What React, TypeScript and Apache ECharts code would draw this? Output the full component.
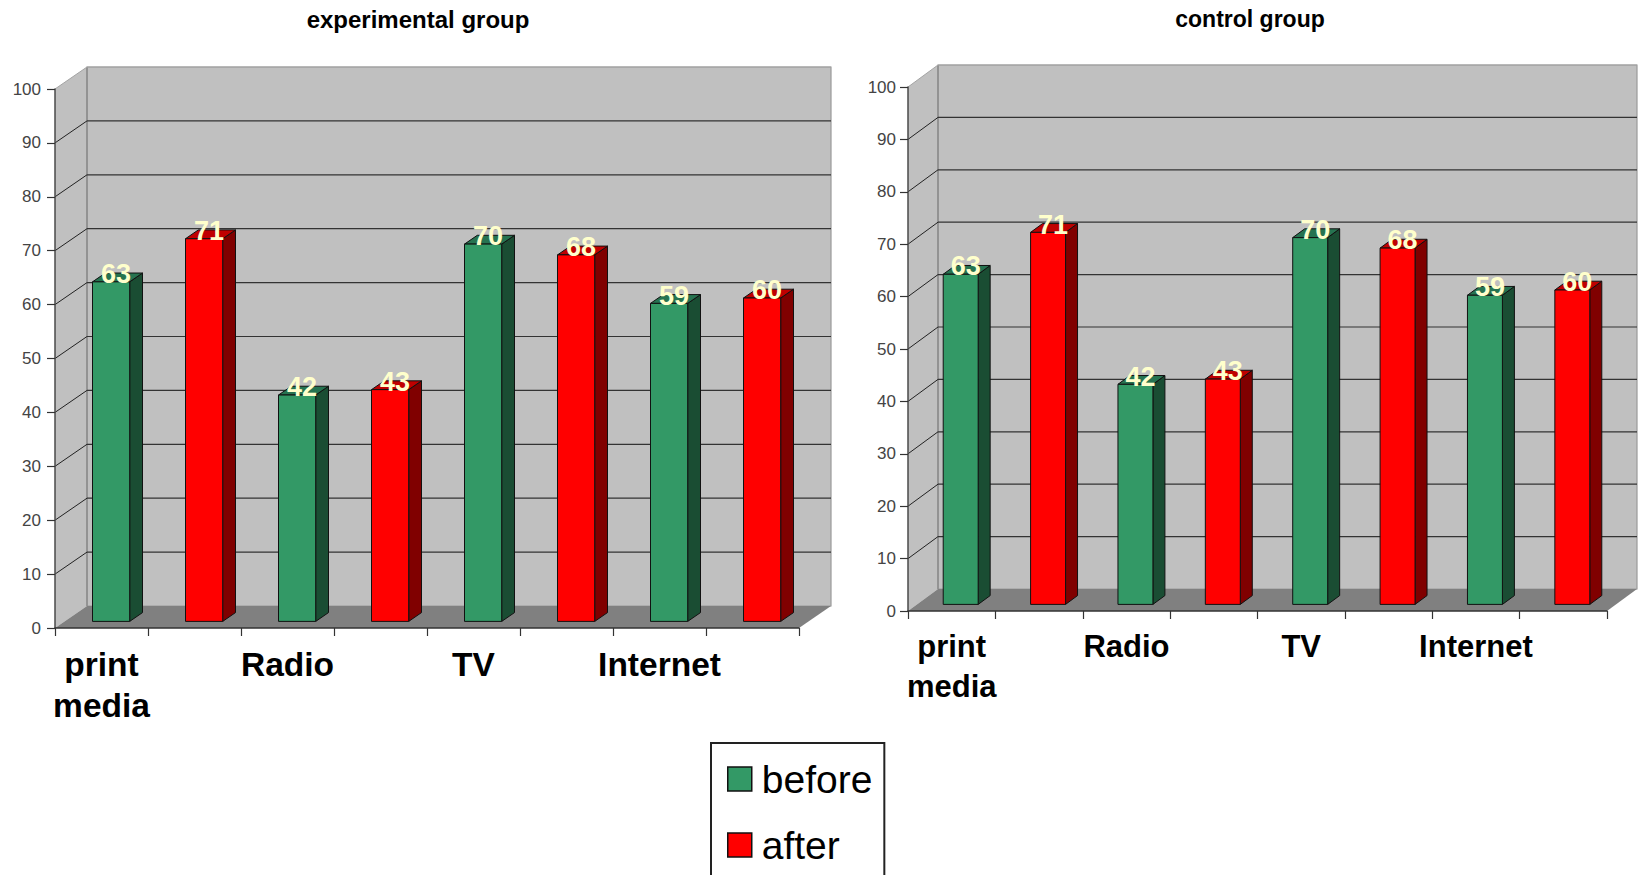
import React, { useEffect, useRef } from "react";
import * as echarts from "echarts";

const categories = ["print\nmedia", "", "Radio", "", "TV", "", "Internet", ""];
const gridValues = [0, 10, 20, 30, 40, 50, 60, 70, 80, 90, 100];

const experimentalBefore = [63, 42, 70, 59];
const experimentalAfter = [71, 43, 68, 60];
const controlBefore = [63, 42, 70, 59];
const controlAfter = [71, 43, 68, 60];

const FONT = '"Liberation Sans", Arial, sans-serif';

const GREEN = { front: "#339966", side: "#1A4D33", top: "#267350" };
const RED = { front: "#FF0000", side: "#800000", top: "#BF0000" };

// Walls, floor and gridlines of the 3D box, offset from the plot rectangle by the box depth.
function frameRenderer(depthX: number, depthY: number) {
  return (params: any, api: any) => {
    const value = api.value(1);
    const { x: left, width } = params.coordSys;
    const right = left + width;
    const y = api.coord([0, value])[1];
    const floorY = api.coord([0, 0])[1];
    const topY = api.coord([0, 100])[1];
    const children: any[] = [];
    if (params.dataIndex === 0) {
      children.push(
        {
          type: "polygon",
          shape: { points: [[left, topY], [left + depthX, topY - depthY], [left + depthX, floorY - depthY], [left, floorY]] },
          style: { fill: "#C0C0C0" },
        },
        {
          type: "rect",
          shape: { x: left + depthX, y: topY - depthY, width, height: floorY - topY },
          style: { fill: "#C0C0C0", stroke: "#9A9A9A", lineWidth: 1.2 },
        },
        {
          type: "polygon",
          shape: { points: [[left, floorY], [right, floorY], [right + depthX, floorY - depthY], [left + depthX, floorY - depthY]] },
          style: { fill: "#808080" },
        },
        {
          type: "line",
          shape: { x1: left + depthX, y1: topY - depthY, x2: left + depthX, y2: floorY - depthY },
          style: { stroke: "#8A8A8A", lineWidth: 1.4 },
        },
      );
    } else {
      const edge = value === 100;
      children.push(
        {
          type: "line",
          shape: { x1: left, y1: y, x2: left + depthX, y2: y - depthY },
          style: { stroke: edge ? "#A4A4A4" : "#222222", lineWidth: 1 },
        },
        {
          type: "line",
          shape: { x1: left + depthX, y1: y - depthY, x2: right + depthX, y2: y - depthY },
          style: { stroke: edge ? "#A4A4A4" : "#333333", lineWidth: 1.2 },
        },
      );
    }
    return { type: "group", children };
  };
}

// A column as three faces plus its value, placed in the middle of the box depth.
function barRenderer(depthX: number, depthY: number, faces: typeof GREEN) {
  return (_params: any, api: any) => {
    const slot = api.value(0);
    const value = api.value(1);
    const [cx, top] = api.coord([slot, value]);
    const base = api.coord([slot, 0])[1];
    const slotWidth = api.size([1, 0])[0];
    const w = slotWidth * 0.4;
    const x0 = cx - w / 2 + depthX * 0.3;
    const x1 = x0 + w;
    const ddx = depthX * 0.4;
    const ddy = depthY * 0.4;
    const yTop = top - depthY * 0.3;
    const yBase = base - depthY * 0.3;
    const outline = { stroke: "#111111", lineWidth: 1 };
    return {
      type: "group",
      children: [
        {
          type: "polygon",
          shape: { points: [[x1, yTop], [x1 + ddx, yTop - ddy], [x1 + ddx, yBase - ddy], [x1, yBase]] },
          style: { fill: faces.side, ...outline },
        },
        {
          type: "polygon",
          shape: { points: [[x0, yTop], [x0 + ddx, yTop - ddy], [x1 + ddx, yTop - ddy], [x1, yTop]] },
          style: { fill: faces.top, ...outline },
        },
        {
          type: "rect",
          shape: { x: x0, y: yTop, width: w, height: yBase - yTop },
          style: { fill: faces.front, ...outline },
        },
        {
          type: "text",
          style: {
            text: String(value),
            x: (x0 + x1) / 2 + 5,
            y: yTop - ddy + 1,
            align: "center",
            verticalAlign: "middle",
            fill: "#FFFFCC",
            font: `bold 27px ${FONT}`,
          },
        },
      ],
    };
  };
}

function valueAxis(gridIndex: number, margin: number) {
  return {
    type: "value",
    gridIndex,
    min: 0,
    max: 100,
    interval: 10,
    z: 5,
    splitLine: { show: false },
    axisLine: { show: true, lineStyle: { color: "#4A4A4A", width: 1.5 } },
    axisTick: { show: true, length: 8, lineStyle: { color: "#333333", width: 1.2 } },
    axisLabel: { margin, color: "#444444", fontFamily: FONT, fontSize: 17 },
  };
}

function categoryAxis(gridIndex: number, fontSize: number, lineHeight: number, margin: number) {
  return {
    type: "category",
    gridIndex,
    data: categories,
    z: 5,
    axisLine: { show: true, onZero: false, lineStyle: { color: "#333333", width: 1.5 } },
    axisTick: { show: true, length: 8, interval: 0, lineStyle: { color: "#333333", width: 1.2 } },
    axisLabel: {
      interval: 0,
      margin,
      color: "#000000",
      fontFamily: FONT,
      fontWeight: "bold",
      fontSize,
      lineHeight,
    },
  };
}

function panelSeries(index: number, before: number[], after: number[], depthX: number, depthY: number) {
  return [
    {
      type: "custom",
      name: `frame ${index}`,
      xAxisIndex: index,
      yAxisIndex: index,
      silent: true,
      renderItem: frameRenderer(depthX, depthY),
      encode: { x: 0, y: 1 },
      data: gridValues.map((v) => [0, v]),
      z: 2,
    },
    {
      type: "custom",
      name: "before",
      xAxisIndex: index,
      yAxisIndex: index,
      itemStyle: { color: GREEN.front },
      renderItem: barRenderer(depthX, depthY, GREEN),
      encode: { x: 0, y: 1 },
      data: before.map((v, i) => [i * 2, v]),
      z: 3,
    },
    {
      type: "custom",
      name: "after",
      xAxisIndex: index,
      yAxisIndex: index,
      itemStyle: { color: RED.front },
      renderItem: barRenderer(depthX, depthY, RED),
      encode: { x: 0, y: 1 },
      data: after.map((v, i) => [i * 2 + 1, v]),
      z: 3,
    },
  ];
}

export default function App() {
  const ref = useRef<HTMLDivElement>(null);

  useEffect(() => {
    const chart = echarts.init(ref.current!, undefined, { renderer: "svg" });
    chart.setOption({
      animation: false,
      backgroundColor: "#FFFFFF",
      title: [
        {
          text: "experimental group",
          left: 413,
          top: 2,
          textAlign: "center",
          textStyle: { fontFamily: FONT, fontWeight: "bold", fontSize: 24, color: "#000000" },
        },
        {
          text: "control group",
          left: 1245,
          top: 2,
          textAlign: "center",
          textStyle: { fontFamily: FONT, fontWeight: "bold", fontSize: 23, color: "#000000" },
        },
      ],
      legend: {
        data: ["before", "after"],
        orient: "vertical",
        left: 711,
        top: 743,
        height: 300,
        padding: [14, 12, 14, 16],
        itemWidth: 24,
        itemHeight: 24,
        itemGap: 22,
        borderColor: "#222222",
        borderWidth: 2,
        backgroundColor: "#FFFFFF",
        selectedMode: false,
        icon: "rect",
        itemStyle: { borderColor: "#111111", borderWidth: 1.5 },
        textStyle: { fontFamily: FONT, fontSize: 39, color: "#000000", lineHeight: 44, padding: [0, 0, 0, 5] },
      },
      grid: [
        { left: 55, top: 89, width: 744, height: 539, outerBoundsMode: "none" },
        { left: 908, top: 87, width: 699, height: 524, outerBoundsMode: "none" },
      ],
      xAxis: [categoryAxis(0, 33.5, 41, 16), categoryAxis(1, 31, 39.5, 16)],
      yAxis: [valueAxis(0, 14), valueAxis(1, 12)],
      series: [
        ...panelSeries(0, experimentalBefore, experimentalAfter, 32, 22),
        ...panelSeries(1, controlBefore, controlAfter, 30, 22),
      ],
    });
    return () => chart.dispose();
  }, []);

  return (
    <div
      ref={ref}
      style={{ position: "fixed", left: 0, top: 0, width: 1639, height: 875, overflow: "hidden" }}
    />
  );
}
